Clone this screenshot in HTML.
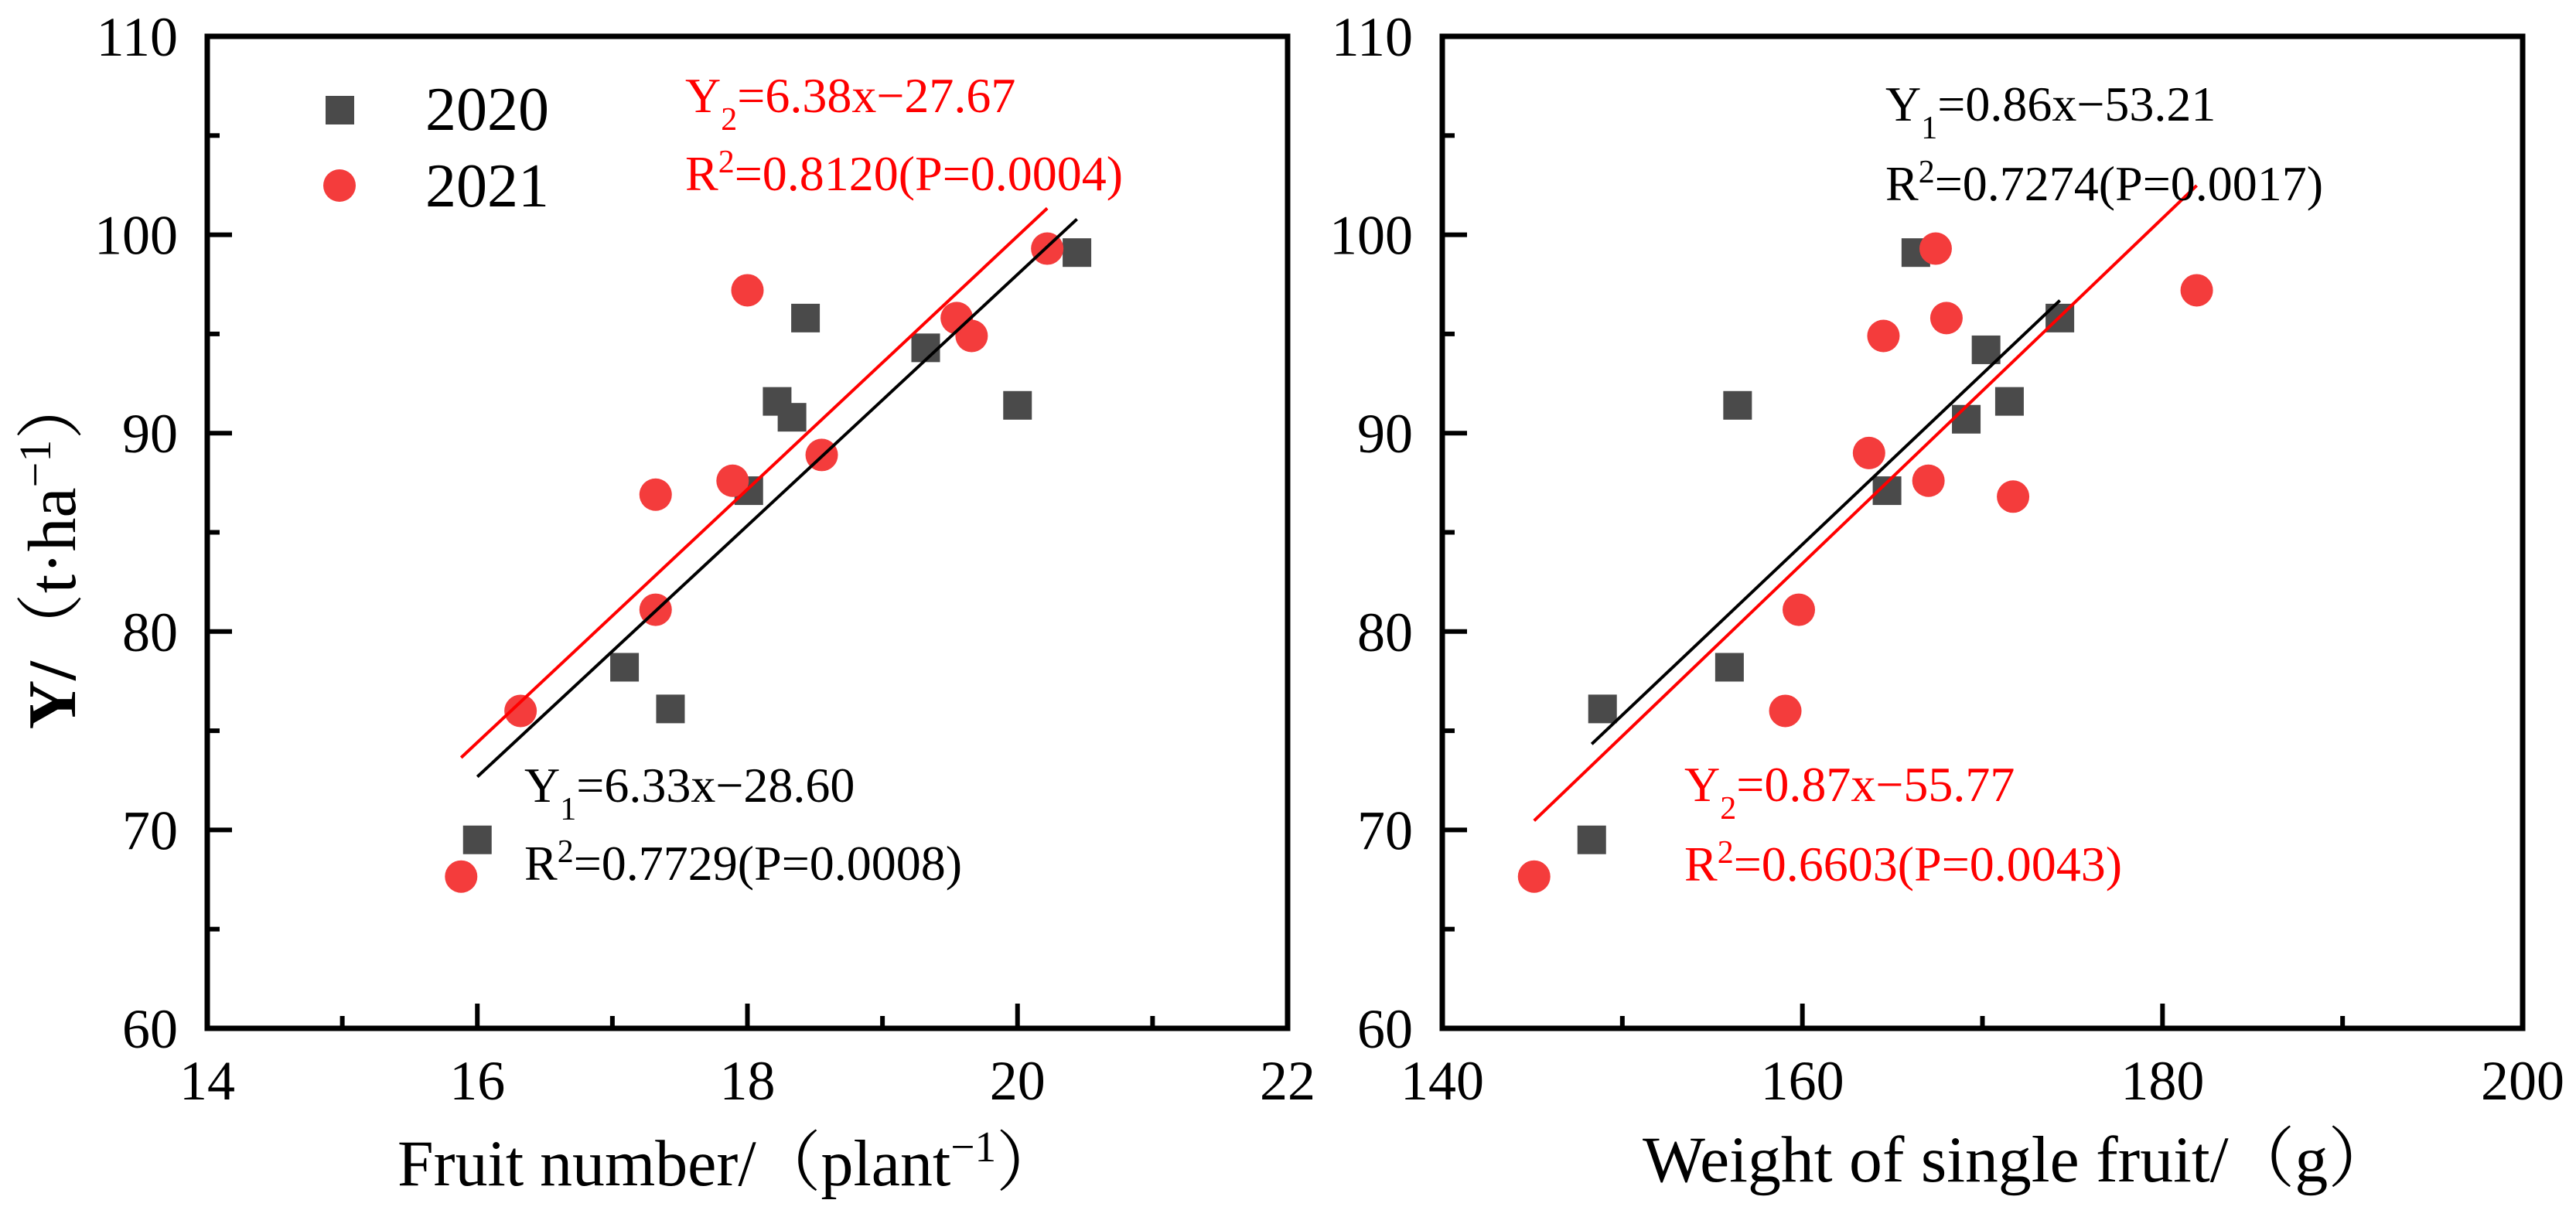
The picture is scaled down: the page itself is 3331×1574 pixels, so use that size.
<!DOCTYPE html>
<html><head><meta charset="utf-8"><style>
html,body{margin:0;padding:0;background:#fff}
svg{display:block}
text{font-family:"Liberation Serif","Noto Serif CJK SC",serif;fill:#000}
</style></head><body>
<svg id="chart" width="3331" height="1574" viewBox="0 0 3331 1574" xmlns="http://www.w3.org/2000/svg">
<rect x="0" y="0" width="3331" height="1574" fill="#fff"/>
<g id="left"></g>
<g id="right"></g>

<text transform="translate(97,712) rotate(-90)" text-anchor="middle" font-size="88"><tspan font-weight="bold">Y/</tspan><tspan font-family="'Noto Serif CJK SC',serif">（</tspan>t·ha<tspan baseline-shift="super" font-size="58">−1</tspan><tspan font-family="'Noto Serif CJK SC',serif">）</tspan></text>

<text x="514" y="1533" font-size="85" textLength="858" lengthAdjust="spacingAndGlyphs">Fruit number/<tspan font-family="'Noto Serif CJK SC',serif">（</tspan>plant<tspan baseline-shift="super" font-size="56">−1</tspan><tspan font-family="'Noto Serif CJK SC',serif">）</tspan></text>
<text x="2124" y="1528" font-size="85" textLength="972" lengthAdjust="spacingAndGlyphs">Weight of single fruit/<tspan font-family="'Noto Serif CJK SC',serif">（</tspan>g<tspan font-family="'Noto Serif CJK SC',serif">）</tspan></text>

<g>
<rect x="421" y="124" width="37" height="37" fill="#4a4a4a"/>
<text x="550" y="168" font-size="80">2020</text>
<circle cx="439" cy="240" r="21" fill="#f43c3c"/>
<text x="550" y="267" font-size="80">2021</text>
</g>

<g fill="#f00">
<text x="886" y="145" font-size="64" style="fill:#f00">Y<tspan baseline-shift="sub" font-size="42">2</tspan>=6.38x−27.67</text>
<text x="886" y="246" font-size="64" style="fill:#f00">R<tspan baseline-shift="super" font-size="42">2</tspan>=0.8120(P=0.0004)</text>
</g>
<g>
<text x="678" y="1037" font-size="64">Y<tspan baseline-shift="sub" font-size="42">1</tspan>=6.33x−28.60</text>
<text x="678" y="1138" font-size="64">R<tspan baseline-shift="super" font-size="42">2</tspan>=0.7729(P=0.0008)</text>
</g>
<g>
<text x="2438" y="156" font-size="64">Y<tspan baseline-shift="sub" font-size="42">1</tspan>=0.86x−53.21</text>
<text x="2438" y="259" font-size="64">R<tspan baseline-shift="super" font-size="42">2</tspan>=0.7274(P=0.0017)</text>
</g>
<g>
<text x="2178" y="1036" font-size="64" style="fill:#f00">Y<tspan baseline-shift="sub" font-size="42">2</tspan>=0.87x−55.77</text>
<text x="2178" y="1139" font-size="64" style="fill:#f00">R<tspan baseline-shift="super" font-size="42">2</tspan>=0.6603(P=0.0043)</text>
</g>
</svg>
<script>
// Left panel data
const leftX2020 = [16.0, 17.09, 17.43, 18.01, 18.22, 18.33, 18.43, 19.32, 20.0, 20.44];
const leftY2020 = [69.5, 78.2, 76.1, 87.1, 91.6, 90.8, 95.8, 94.3, 91.4, 99.1];
const leftX2021 = [15.88, 16.32, 17.32, 17.32, 17.89, 18.0, 18.55, 19.55, 19.66, 20.22];
const leftY2021 = [67.65, 76.0, 81.1, 86.9, 87.6, 97.2, 88.9, 95.8, 94.9, 99.3];
const leftFit2020 = [6.33, -28.60];
const leftFit2021 = [6.38, -27.67];
const leftXTicks = [14, 16, 18, 20, 22];
// Right panel data
const rightX2020 = [148.3, 148.9, 155.95, 156.4, 164.7, 166.3, 169.1, 170.2, 171.5, 174.3];
const rightY2020 = [69.5, 76.1, 78.2, 91.4, 87.1, 99.1, 90.7, 94.2, 91.6, 95.8];
const rightX2021 = [145.1, 159.05, 159.8, 163.7, 164.5, 167.0, 167.4, 168.0, 171.7, 181.9];
const rightY2021 = [67.65, 76.0, 81.1, 89.0, 94.9, 87.6, 99.3, 95.8, 86.8, 97.2];
const rightFit2020 = [0.86, -53.21];
const rightFit2021 = [0.87, -55.77];
const rightXTicks = [140, 160, 180, 200];
const yTicks = [60, 70, 80, 90, 100, 110];

const NS = 'http://www.w3.org/2000/svg';
function mk(parent, tag, attrs){
  const e = document.createElementNS(NS, tag);
  for (const k in attrs) e.setAttribute(k, attrs[k]);
  parent.appendChild(e);
  return e;
}
function panel(gId, x0, x1, xmin, xmax, xTicks, xs20, ys20, xs21, ys21, fit20, fit21, yLabelRight, pfx){
  const g = document.getElementById(gId);
  const y0 = 1330, y1 = 47, ymin = 60, ymax = 110;
  const sx = v => x0 + (v - xmin) / (xmax - xmin) * (x1 - x0);
  const sy = v => y0 - (v - ymin) / (ymax - ymin) * (y0 - y1);
  // y ticks
  const yStep = yTicks[1] - yTicks[0];
  for (let i = 0; i < yTicks.length; i++) {
    const v = yTicks[i];
    const t = mk(g, 'line', {x1: x0, x2: x0 + 32, y1: sy(v), y2: sy(v), stroke: '#000', 'stroke-width': 6});
    
    
    if (i < yTicks.length - 1) {
      const m = mk(g, 'line', {x1: x0, x2: x0 + 16, y1: sy(v + yStep / 2), y2: sy(v + yStep / 2), stroke: '#000', 'stroke-width': 6});
      
      
    }
    const lb = mk(g, 'text', {x: yLabelRight, y: sy(v) + 25, 'text-anchor': 'end', 'font-size': 72});
    lb.textContent = v;
    
    
  }
  const xStep = xTicks[1] - xTicks[0];
  for (let i = 0; i < xTicks.length; i++) {
    const v = xTicks[i];
    const t = mk(g, 'line', {x1: sx(v), x2: sx(v), y1: y0, y2: y0 - 32, stroke: '#000', 'stroke-width': 6});
    
    
    if (i < xTicks.length - 1) {
      const m = mk(g, 'line', {x1: sx(v + xStep / 2), x2: sx(v + xStep / 2), y1: y0, y2: y0 - 16, stroke: '#000', 'stroke-width': 6});
      
      
    }
    const lb = mk(g, 'text', {x: sx(v), y: 1422, 'text-anchor': 'middle', 'font-size': 72});
    lb.textContent = v;
    
    
  }
  const frame = mk(g, 'rect', {x: x0, y: y1, width: x1 - x0, height: y0 - y1, fill: 'none', stroke: '#000', 'stroke-width': 7});
  
  
  // fit lines over data range
  const fitLine = (xs, fit, color, name) => {
    const a = Math.min(...xs), b = Math.max(...xs);
    const l = mk(g, 'line', {x1: sx(a), y1: sy(fit[0] * a + fit[1]), x2: sx(b), y2: sy(fit[0] * b + fit[1]), stroke: color, 'stroke-width': 4});
    
    
  };
  for (let i = 0; i < xs20.length; i++) {
    const r = mk(g, 'rect', {x: sx(xs20[i]) - 18.5, y: sy(ys20[i]) - 18.5, width: 37, height: 37, fill: '#4a4a4a'});
    
    
  }
  for (let i = 0; i < xs21.length; i++) {
    const c = mk(g, 'circle', {cx: sx(xs21[i]), cy: sy(ys21[i]), r: 21, fill: '#f43c3c'});
    
    
  }
  fitLine(xs21, fit21, '#f00', pfx + '-fit-line-2021');
  fitLine(xs20, fit20, '#000', pfx + '-fit-line-2020');
}
panel('left', 268, 1665, 14, 22, leftXTicks, leftX2020, leftY2020, leftX2021, leftY2021, leftFit2020, leftFit2021, 230, 'left');
panel('right', 1865, 3262, 140, 200, rightXTicks, rightX2020, rightY2020, rightX2021, rightY2021, rightFit2020, rightFit2021, 1827, 'right');
</script>
</body></html>
